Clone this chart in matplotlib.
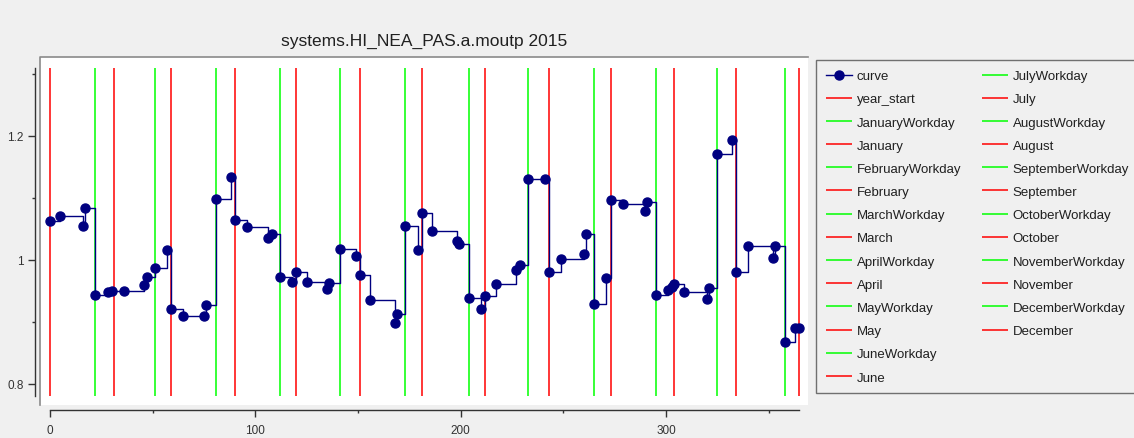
import matplotlib
matplotlib.use('Agg')
import matplotlib.pyplot as plt
from matplotlib.lines import Line2D
from matplotlib.ticker import FixedLocator

# data
days = [0, 5, 16, 17, 22, 28, 30, 36, 46, 47, 51, 57, 59, 65, 75, 76, 81, 88, 90, 96,
        106, 108, 112, 118, 120, 125, 135, 136, 141, 149, 151, 156, 168, 169, 173,
        179, 181, 186, 198, 199, 204, 210, 212, 217, 227, 229, 233, 241, 243, 249,
        260, 261, 265, 271, 273, 279, 290, 291, 295, 301, 303, 304, 309, 320, 321,
        325, 332, 334, 340, 352, 353, 358, 363, 365]
values = [1.062, 1.070, 1.054, 1.083, 0.944, 0.948, 0.950, 0.950, 0.959, 0.972,
          0.987, 1.016, 0.921, 0.910, 0.909, 0.928, 1.098, 1.133, 1.064, 1.053,
          1.035, 1.041, 0.973, 0.964, 0.981, 0.964, 0.953, 0.962, 1.018, 1.007,
          0.975, 0.935, 0.898, 0.913, 1.055, 1.016, 1.076, 1.046, 1.031, 1.026,
          0.939, 0.920, 0.941, 0.961, 0.983, 0.991, 1.130, 1.131, 0.980, 1.002,
          1.010, 1.041, 0.929, 0.971, 1.096, 1.090, 1.078, 1.093, 0.943, 0.952,
          0.957, 0.961, 0.948, 0.937, 0.954, 1.171, 1.194, 0.981, 1.022, 1.003,
          1.022, 0.868, 0.890, 0.890]

months = ['January', 'February', 'March', 'April', 'May', 'June', 'July',
          'August', 'September', 'October', 'November', 'December']
month_end_days = [31, 59, 90, 120, 151, 181, 212, 243, 273, 304, 334, 365]
workday_days = [22, 51, 81, 112, 141, 173, 204, 233, 265, 295, 325, 358]
year_start_day = 0

title = 'systems.HI_NEA_PAS.a.moutp 2015'

# style
BG = '#f0f0f0'
RED = '#ff0000'
GREEN = '#00ff00'
NAVY = '#000080'
V_LO, V_HI = 0.78, 1.31

plt.rcParams['font.family'] = ['Liberation Sans', 'DejaVu Sans']

fig = plt.figure(figsize=(11.34, 4.39), dpi=100, facecolor=BG)
ax = fig.add_axes([40 / 1134, 1 - 406 / 439, 768 / 1134, 348 / 439])
ax.set_facecolor('white')

ax.vlines(year_start_day, V_LO, V_HI, colors=RED, lw=1.1, label='year_start')
for m, wd, me in zip(months, workday_days, month_end_days):
    ax.vlines(wd, V_LO, V_HI, colors=GREEN, lw=1.1, label=m + 'Workday')
    ax.vlines(me, V_LO, V_HI, colors=RED, lw=1.1, label=m)

ax.plot(days, values, drawstyle='steps-post', color=NAVY, lw=1.0,
        marker='o', markersize=6.5, markeredgecolor=NAVY, label='curve', zorder=5)

ax.set_xlim(-4.9, 369.2)
ax.set_ylim(0.766, 1.327)

# axes look: detached left / bottom axis lines
for s in ['top', 'right']:
    ax.spines[s].set_visible(False)
ax.spines['left'].set_position(('outward', 3.6))
ax.spines['bottom'].set_position(('outward', 3.6))
ax.spines['left'].set_bounds(V_LO, V_HI)
ax.spines['bottom'].set_bounds(0, 365)
for s in ['left', 'bottom']:
    ax.spines[s].set_color('#333333')
    ax.spines[s].set_linewidth(1.0)
# sunken panel edge
ax.plot([0, 0, 1], [0, 1, 1], transform=ax.transAxes, color='#8a8a8a', lw=1.2,
        clip_on=False, zorder=6)

ax.yaxis.set_major_locator(FixedLocator([0.8, 1.0, 1.2]))
ax.set_yticklabels(['0.8', '1', '1.2'])
ax.yaxis.set_minor_locator(FixedLocator([0.9, 1.1, 1.3]))
ax.xaxis.set_major_locator(FixedLocator([0, 100, 200, 300]))
ax.xaxis.set_minor_locator(FixedLocator([50, 150, 250, 350]))
ax.tick_params(which='major', length=5, width=1, color='#333333',
               labelsize=8.5, labelcolor='#333333', pad=3)
ax.tick_params(which='minor', length=2.5, width=1, color='#333333')
ax.tick_params(axis='x', which='major', pad=5)

ax.set_title(title, fontsize=12.5, color='#202020', pad=9)

# legend: curve first, then year_start, then month pairs; two blanks so the
# first column holds 14 entries like the original
hs, ls = ax.get_legend_handles_labels()
order = [ls.index('curve')] + [i for i, l in enumerate(ls) if l != 'curve']
leg_h = [hs[i] for i in order] + [Line2D([], [], ls='none')] * 2
leg_l = [ls[i] for i in order] + ['', '']
leg = fig.legend(leg_h, leg_l,
                 loc='upper left', bbox_to_anchor=(816 / 1134, 1 - 61 / 439),
                 ncol=2, fontsize=9.5, frameon=True, fancybox=False,
                 facecolor=BG, edgecolor='#707070', framealpha=1,
                 handlelength=2.0, handletextpad=0.35, labelspacing=0.83,
                 columnspacing=1.55, borderpad=0.75, borderaxespad=0)
leg.get_frame().set_linewidth(1.0)
for t in leg.get_texts():
    t.set_color('#202020')

fig.savefig('out.png', dpi=100, facecolor=BG)
